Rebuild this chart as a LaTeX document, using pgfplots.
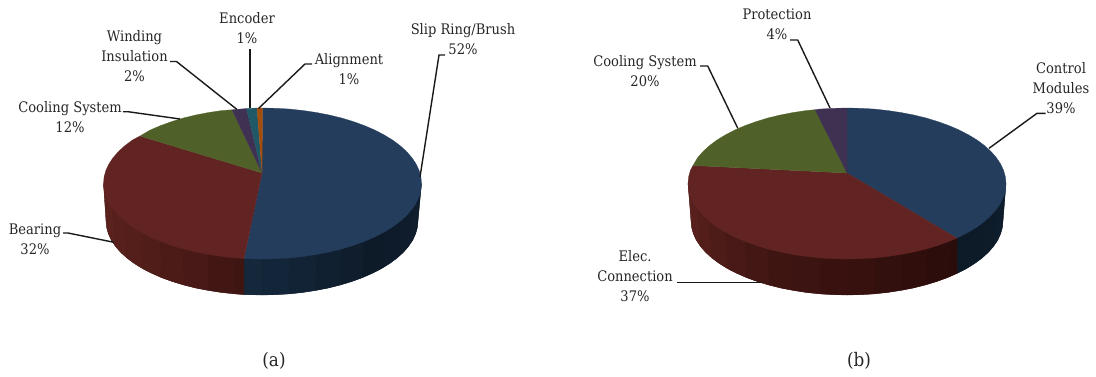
\documentclass[border=0pt]{standalone}
\usepackage{fontspec}
\setmainfont{DejaVu Serif Condensed}
\usepackage{pgfplots}
\pgfplotsset{compat=1.18}
\definecolor{topBlue}{HTML}{243D5C}
\definecolor{topRed}{HTML}{622423}
\definecolor{topGreen}{HTML}{4F6128}
\definecolor{topPurple}{HTML}{3F3151}
\definecolor{topTeal}{HTML}{205867}
\definecolor{topOrange}{HTML}{A34E0C}
\definecolor{redLight}{HTML}{5C221E}
\definecolor{redMid}{HTML}{3F1512}
\definecolor{redDark}{HTML}{2A0C0A}
\definecolor{blueLight}{HTML}{14273B}
\definecolor{blueDark}{HTML}{0D1A28}
\newcommand{\strip}[2]{\addplot[fill=#1,draw=none] coordinates {#2} -- cycle;}
\newcommand{\slice}[2]{\addplot[fill=#1,draw=#1,line width=0.2pt,line join=round] coordinates {#2} -- cycle;}
\newcommand{\leader}[1]{\addplot[black!90,line width=1.05pt] coordinates {#1};}
\newcommand{\lab}[3]{\node[align=center,font=\fontsize{10.9pt}{15pt}\selectfont,text=black!85,inner sep=0pt] at (axis cs:#1,#2) {#3};}
\begin{document}
\begin{tikzpicture}
\begin{axis}[
  scale only axis, width=822pt, height=282pt,
  xmin=0, xmax=1096, ymin=0, ymax=376, y dir=reverse,
  hide axis, clip=false]
\path (axis cs:0,0) rectangle (axis cs:1096,376);
% --- pie (a): rim silhouettes
\slice{blueDark}{(244,258.5) (421.5,183.5) (418,221) (417.4,227.5) (415.6,233.85) (412.7,240.2) (408.6,246.3) (403.4,252.3) (397.1,258) (389.8,263.4) (381.5,268.6) (372.3,273.3) (362.3,277.7) (351.5,281.6) (340,285.1) (327.9,288.1) (315.4,290.5) (302.4,292.5) (289.1,293.9) (275.6,294.7) (262,295) (248.4,294.7) (244,294.6)}
\slice{redMid}{(244,258.5) (103.5,183.5) (106,221) (106.6,227.5) (108.4,233.85) (111.3,240.2) (115.4,246.3) (120.6,252.3) (126.9,258) (134.2,263.4) (142.5,268.6) (151.7,273.3) (161.7,277.7) (172.5,281.6) (184,285.1) (196.1,288.1) (208.6,290.5) (221.6,292.5) (234.9,293.9) (244,294.6)}
% pie (a): rim shading, blue part
\strip{blueLight}{(244,258.5) (262.5,259) (262,295) (248.4,294.7) (244,294.6)}
\strip{blueLight!85!blueDark}{(262.5,259) (290.1,257.9) (289.1,293.9) (275.6,294.7) (262,295)}
\strip{blueLight!70!blueDark}{(290.1,257.9) (316.9,254.4) (315.4,290.5) (302.4,292.5) (289.1,293.9)}
\strip{blueLight!50!blueDark}{(316.9,254.4) (342,248.9) (340,285.1) (327.9,288.1) (315.4,290.5)}
\strip{blueLight!25!blueDark}{(342,248.9) (364.7,241.3) (362.3,277.7) (351.5,281.6) (340,285.1)}
\strip{blueDark}{(364.7,241.3) (384.3,232) (381.5,268.6) (372.3,273.3) (362.3,277.7)}
\strip{blueLight!8!blueDark}{(384.3,232) (400.2,221.25) (397.1,258) (389.8,263.4) (381.5,268.6)}
\strip{blueLight!15!blueDark}{(400.2,221.25) (411.9,209.3) (408.6,246.3) (403.4,252.3) (397.1,258)}
\strip{blueLight!22!blueDark}{(411.9,209.3) (419.1,196.6) (415.6,233.85) (412.7,240.2) (408.6,246.3)}
\strip{blueLight!28!blueDark}{(419.1,196.6) (421.5,183.5) (418,221) (417.4,227.5) (415.6,233.85)}
% pie (a): rim shading, red part
\strip{redMid}{(244,258.5) (234.9,257.9) (234.9,293.9) (244,294.6)}
\strip{redLight!12!redMid}{(234.9,257.9) (208.1,254.4) (208.6,290.5) (221.6,292.5) (234.9,293.9)}
\strip{redLight!30!redMid}{(208.1,254.4) (183,248.9) (184,285.1) (196.1,288.1) (208.6,290.5)}
\strip{redLight!45!redMid}{(183,248.9) (160.3,241.3) (161.7,277.7) (172.5,281.6) (184,285.1)}
\strip{redLight!60!redMid}{(160.3,241.3) (140.7,232) (142.5,268.6) (151.7,273.3) (161.7,277.7)}
\strip{redLight!72!redMid}{(140.7,232) (124.8,221.25) (126.9,258) (134.2,263.4) (142.5,268.6)}
\strip{redLight!84!redMid}{(124.8,221.25) (113.1,209.3) (115.4,246.3) (120.6,252.3) (126.9,258)}
\strip{redLight!94!redMid}{(113.1,209.3) (105.9,196.6) (108.4,233.85) (111.3,240.2) (115.4,246.3)}
\strip{redLight}{(105.9,196.6) (103.5,183.5) (106,221) (106.6,227.5) (108.4,233.85)}
% pie (a): top face
\slice{topBlue}{(262,173) (262.5,108) (276.4,108.3) (290.1,109.1) (303.6,110.6) (316.9,112.6) (329.7,115.1) (342,118.1) (353.7,121.7) (364.7,125.7) (374.9,130.1) (384.3,135) (392.8,140.2) (400.2,145.75) (406.6,151.6) (411.9,157.7) (416.1,164) (419.1,170.4) (420.9,176.9) (421.5,183.5) (420.9,190.1) (419.1,196.6) (416.1,203) (411.9,209.3) (406.6,215.4) (400.2,221.25) (392.8,226.8) (384.3,232) (374.9,236.9) (364.7,241.3) (353.7,245.3) (342,248.9) (329.7,251.9) (316.9,254.4) (303.6,256.4) (290.1,257.9) (276.4,258.7) (262.5,259) (248.6,258.7) (244,258.5)}
\slice{topRed}{(262,173) (244,258.5) (234.9,257.9) (221.4,256.4) (208.1,254.4) (195.3,251.9) (183,248.9) (171.3,245.3) (160.3,241.3) (150.1,236.9) (140.7,232) (132.2,226.8) (124.8,221.25) (118.4,215.4) (113.1,209.3) (108.9,203) (105.9,196.6) (104.1,190.1) (103.5,183.5) (104.1,176.9) (105.9,170.4) (108.9,164) (113.1,157.7) (118.4,151.6) (124.8,145.75) (132.2,140.2) (140,136)}
\slice{topGreen}{(262,173) (140,136) (150.1,130.1) (160.3,125.7) (171.3,121.7) (183,118.1) (195.3,115.1) (208.1,112.6) (221.4,110.6) (232,109.8)}
\slice{topPurple}{(262,173) (232,109.8) (246.5,108.5)}
\slice{topTeal}{(262,173) (246.5,108.5) (257,108)}
\slice{topOrange}{(262,173) (257,108) (262.5,108)}
% --- pie (b): rim silhouettes
\slice{blueDark}{(957,238.2) (1006,183.5) (1003,221) (1002.4,227.5) (1000.6,233.85) (997.7,240.2) (993.6,246.3) (988.4,252.3) (982.1,258) (974.8,263.4) (966.5,268.6) (957.3,273.3)}
\slice{redMid}{(957,238.2) (688,183.5) (691,221) (691.6,227.5) (693.4,233.85) (696.3,240.2) (700.4,246.3) (705.6,252.3) (711.9,258) (719.2,263.4) (727.5,268.6) (736.7,273.3) (746.7,277.7) (757.5,281.6) (769,285.1) (781.1,288.1) (793.6,290.5) (806.6,292.5) (819.9,293.9) (833.4,294.7) (847,295) (860.6,294.7) (874.1,293.9) (887.4,292.5) (900.4,290.5) (912.9,288.1) (925,285.1) (936.5,281.6) (947.3,277.7) (957.3,273.3)}
% pie (b): rim shading, blue part
\strip{blueDark}{(957,238.2) (968.8,232) (966.5,268.6) (957.3,273.3)}
\strip{blueLight!6!blueDark}{(968.8,232) (984.7,221.25) (982.1,258) (974.8,263.4) (966.5,268.6)}
\strip{blueLight!12!blueDark}{(984.7,221.25) (996.4,209.3) (993.6,246.3) (988.4,252.3) (982.1,258)}
\strip{blueLight!20!blueDark}{(996.4,209.3) (1003.6,196.6) (1000.6,233.85) (997.7,240.2) (993.6,246.3)}
\strip{blueLight!25!blueDark}{(1003.6,196.6) (1006,183.5) (1003,221) (1002.4,227.5) (1000.6,233.85)}
% pie (b): rim shading, red part
\strip{redDark}{(957,238.2) (949.2,241.3) (947.3,277.7) (957.3,273.3)}
\strip{redMid!12!redDark}{(949.2,241.3) (926.5,248.9) (925,285.1) (936.5,281.6) (947.3,277.7)}
\strip{redMid!25!redDark}{(926.5,248.9) (901.4,254.4) (900.4,290.5) (912.9,288.1) (925,285.1)}
\strip{redMid!40!redDark}{(901.4,254.4) (874.6,257.9) (874.1,293.9) (887.4,292.5) (900.4,290.5)}
\strip{redMid!55!redDark}{(874.6,257.9) (847,259) (847,295) (860.6,294.7) (874.1,293.9)}
\strip{redMid!70!redDark}{(847,259) (819.4,257.9) (819.9,293.9) (833.4,294.7) (847,295)}
\strip{redMid!85!redDark}{(819.4,257.9) (792.6,254.4) (793.6,290.5) (806.6,292.5) (819.9,293.9)}
\strip{redMid}{(792.6,254.4) (767.5,248.9) (769,285.1) (781.1,288.1) (793.6,290.5)}
\strip{redLight!15!redMid}{(767.5,248.9) (744.8,241.3) (746.7,277.7) (757.5,281.6) (769,285.1)}
\strip{redLight!32!redMid}{(744.8,241.3) (725.2,232) (727.5,268.6) (736.7,273.3) (746.7,277.7)}
\strip{redLight!50!redMid}{(725.2,232) (709.3,221.25) (711.9,258) (719.2,263.4) (727.5,268.6)}
\strip{redLight!68!redMid}{(709.3,221.25) (697.6,209.3) (700.4,246.3) (705.6,252.3) (711.9,258)}
\strip{redLight!85!redMid}{(697.6,209.3) (690.4,196.6) (693.4,233.85) (696.3,240.2) (700.4,246.3)}
\strip{redLight}{(690.4,196.6) (688,183.5) (691,221) (691.6,227.5) (693.4,233.85)}
% pie (b): top face
\slice{topBlue}{(847,173) (847,108) (860.9,108.3) (874.6,109.1) (888.1,110.6) (901.4,112.6) (914.2,115.1) (926.5,118.1) (938.2,121.7) (949.2,125.7) (959.4,130.1) (968.8,135) (977.3,140.2) (984.7,145.75) (991.1,151.6) (996.4,157.7) (1000.6,164) (1003.6,170.4) (1005.4,176.9) (1006,183.5) (1005.4,190.1) (1003.6,196.6) (1000.6,203) (996.4,209.3) (991.1,215.4) (984.7,221.25) (977.3,226.8) (968.8,232) (957,238.2)}
\slice{topRed}{(847,173) (957,238.2) (949.2,241.3) (938.2,245.3) (926.5,248.9) (914.2,251.9) (901.4,254.4) (888.1,256.4) (874.6,257.9) (860.9,258.7) (847,259) (833.1,258.7) (819.4,257.9) (805.9,256.4) (792.6,254.4) (779.8,251.9) (767.5,248.9) (755.8,245.3) (744.8,241.3) (734.6,236.9) (725.2,232) (716.7,226.8) (709.3,221.25) (702.9,215.4) (697.6,209.3) (693.4,203) (690.4,196.6) (688.6,190.1) (688,183.5) (688.6,176.9) (690.4,170.4) (693,165.5)}
\slice{topGreen}{(847,173) (693,165.5) (697.6,157.7) (702.9,151.6) (709.3,145.75) (716.7,140.2) (725.2,135) (734.6,130.1) (744.8,125.7) (755.8,121.7) (767.5,118.1) (779.8,115.1) (792.6,112.6) (805.9,110.6) (815,109.7)}
\slice{topPurple}{(847,173) (815,109.7) (819.4,109.1) (833.1,108.3) (847,108)}
% --- leader lines
\leader{(420,177) (439,55) (445,55)}
\leader{(258.5,108.5) (305,64) (312,64)}
\leader{(250,108) (250,49)}
\leader{(237,109.5) (176.5,61.5) (170,61.5)}
\leader{(180,119) (128,111.7) (123,111.7)}
\leader{(114,242.3) (68,233) (63,233)}
\leader{(830,108) (797.7,40) (790,40)}
\leader{(737.8,128.3) (707.7,66) (700,66)}
\leader{(989,148.3) (1037,113.3) (1045.5,113.3)}
\leader{(761.8,282.7) (677,282.7)}
% --- labels
\lab{463}{39}{Slip Ring/Brush\\52\%}
\lab{349}{69}{Alignment\\1\%}
\lab{247}{28.5}{Encoder\\1\%}
\lab{134.5}{56.5}{Winding\\Insulation\\2\%}
\lab{70}{117}{Cooling System\\12\%}
\lab{35}{239}{Bearing\\32\%}
\lab{777}{24}{Protection\\4\%}
\lab{645}{71}{Cooling System\\20\%}
\lab{1061}{88.5}{Control\\Modules\\39\%}
\lab{635}{276.5}{Elec.\\Connection\\37\%}
\node[font=\fontsize{14pt}{16pt}\selectfont,text=black!85] at (axis cs:274,361) {(a)};
\node[font=\fontsize{14pt}{16pt}\selectfont,text=black!85] at (axis cs:859,361) {(b)};
\end{axis}
\end{tikzpicture}
\end{document}
